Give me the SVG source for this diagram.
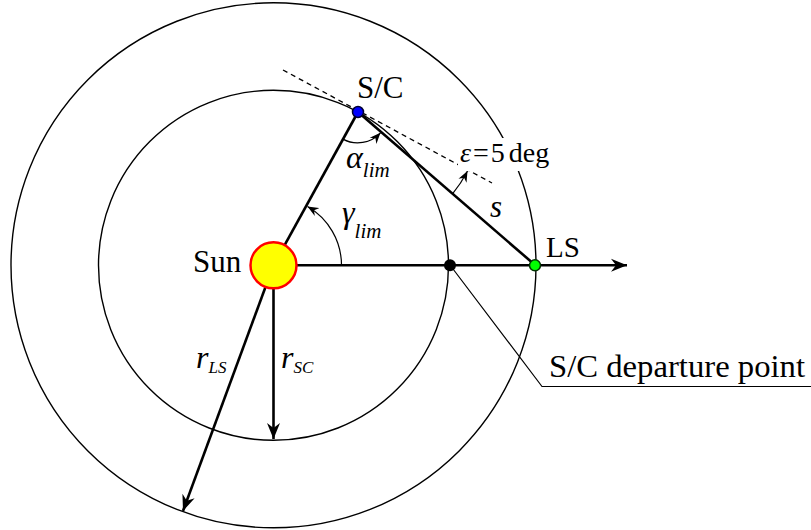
<svg xmlns="http://www.w3.org/2000/svg" width="811" height="530" viewBox="0 0 811 530">
<style>
.orbit{fill:none;stroke:#000;stroke-width:1.4}
.thick{fill:none;stroke:#000;stroke-width:2.6}
.thin{fill:none;stroke:#000;stroke-width:1.2}
.dash{fill:none;stroke:#000;stroke-width:1.3;stroke-dasharray:5 4}
.lbl{font-family:"Liberation Serif","Times New Roman",serif;fill:#000}
.it{font-style:italic}
</style>
<defs>
<marker id="big" viewBox="-16 -7 18 14" markerWidth="18" markerHeight="14" refX="0" refY="0" orient="auto" markerUnits="userSpaceOnUse">
<path d="M0,0 L-16,-6.5 L-11,0 L-16,6.5 Z" fill="#000"/>
</marker>
<marker id="small" viewBox="-11 -5 12 10" markerWidth="12" markerHeight="10" refX="0" refY="0" orient="auto" markerUnits="userSpaceOnUse">
<path d="M0,0 L-11,-4.5 L-7.5,0 L-11,4.5 Z" fill="#000"/>
</marker>
</defs>
<rect width="811" height="530" fill="#fff"/>
<g id="orbits">
<circle id="outer-orbit" class="orbit" cx="273.5" cy="265.3" r="262.5"/>
<circle id="inner-orbit" class="orbit" cx="273.5" cy="265.3" r="175"/>
</g>
<g id="connectors">
<line class="dash" x1="283" y1="70" x2="492" y2="183"/>
<line class="thick" x1="273.5" y1="265.3" x2="358" y2="112"/>
<line class="thick" x1="358" y1="112" x2="535" y2="265"/>
<line class="thick" x1="273.5" y1="265.3" x2="627" y2="265.3" marker-end="url(#big)"/>
<line class="thick" x1="273.5" y1="265.3" x2="273.5" y2="439" marker-end="url(#big)"/>
<line class="thick" x1="273.5" y1="265.3" x2="183" y2="511" marker-end="url(#big)"/>
<path class="thin" d="M342.9,139.1 A31,31 0 0 0 380.5,132.8" marker-end="url(#small)"/>
<path class="thin" d="M341.5,265.3 A68,68 0 0 0 307.5,206.5" marker-end="url(#small)"/>
<path class="thin" d="M452.5,193.8 A125,125 0 0 0 467.5,171" marker-end="url(#small)"/>
<polyline class="thin" points="450,265 542,386.5 811,386.5"/>
</g>
<g id="sun">
<circle cx="273.5" cy="265.3" r="23" fill="#ffff00" stroke="#ff0000" stroke-width="2.5"/>
<text class="lbl" x="193" y="272" font-size="31">Sun</text>
</g>
<g id="sc">
<circle cx="358" cy="112" r="5.5" fill="#0000ff" stroke="#000033" stroke-width="1.5"/>
<text class="lbl" x="357" y="98" font-size="31">S/C</text>
</g>
<g id="ls">
<circle cx="535" cy="265.3" r="5.5" fill="#00ff00" stroke="#003300" stroke-width="1.5"/>
<text class="lbl" x="546" y="257" font-size="29">LS</text>
</g>
<g id="departure">
<circle cx="450" cy="265.3" r="6" fill="#000"/>
<text class="lbl" x="549" y="377" font-size="31" textLength="256" lengthAdjust="spacingAndGlyphs">S/C departure point</text>
</g>
<g id="labels">
<text class="lbl it" x="346" y="168" font-size="32">α<tspan font-size="21" dy="9">lim</tspan></text>
<text class="lbl it" x="342" y="223" font-size="32">γ<tspan font-size="21" dy="15">lim</tspan></text>
<text class="lbl it" x="490" y="217" font-size="31">s</text>
<text class="lbl it" x="196" y="368" font-size="32">r<tspan font-size="17" dy="5">LS</tspan></text>
<text class="lbl it" x="281" y="368" font-size="32">r<tspan font-size="17" dy="5">SC</tspan></text>
<rect x="458" y="138" width="95" height="33" fill="#fff"/>
<text class="lbl" x="460" y="162" font-size="28"><tspan class="it">ε</tspan><tspan dx="2">=</tspan><tspan dx="2">5</tspan><tspan dx="4">deg</tspan></text>
</g>
</svg>
